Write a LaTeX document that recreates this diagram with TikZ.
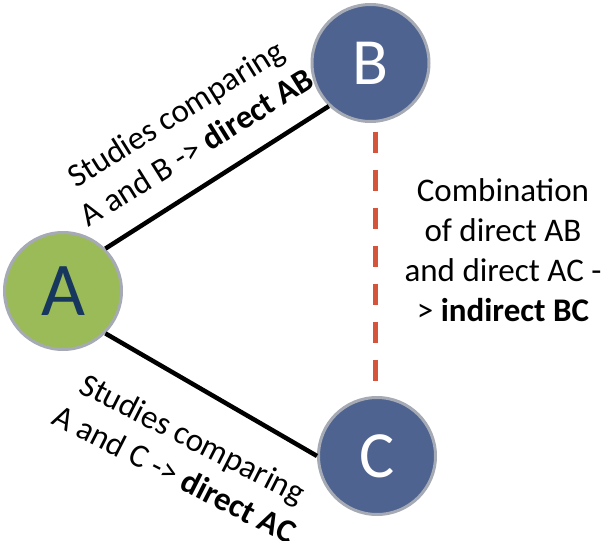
\documentclass[tikz,border=0pt]{standalone}
\usepackage{fontspec}
\setmainfont{Carlito}
\definecolor{agreen}{RGB}{155,187,89}
\definecolor{navy}{RGB}{23,55,94}
\definecolor{bblue}{RGB}{78,99,143}
\definecolor{ring}{RGB}{165,170,180}
\definecolor{dashred}{RGB}{214,84,58}
\tikzset{
  circ/.style={circle, draw=ring, line width=3pt, minimum size=117pt, inner sep=0pt},
  conn/.style={draw=black, line width=4.5pt},
  dashline/.style={draw=dashred, line width=5pt, dash pattern=on 21pt off 17pt},
  lbl/.style={align=center, font=\fontsize{33}{40}\selectfont, inner sep=0pt}
}
\begin{document}
\begin{tikzpicture}[x=1pt,y=-1pt]
\useasboundingbox (0,0) rectangle (603,541);
\node[circ, fill=agreen, text=navy, font=\fontsize{76}{76}\selectfont] (A) at (63,291) {A};
\node[circ, fill=bblue, text=white, font=\fontsize{66}{66}\selectfont] (B) at (370.5,63) {B};
\node[circ, fill=bblue, text=white, font=\fontsize{66}{66}\selectfont] (C) at (377,456) {C};
\draw[conn] (A.45) -- (B.226);
\draw[conn] (A.-45) -- (C.180);
\draw[dashline] ([shift={(4.5,8.5)}]B.south) -- ([shift={(-2,-15.5)}]C.north);
\node[lbl, rotate=32] (tab) at (186,130) {Studies comparing\\A and B -> \textbf{direct AB}};
\node[lbl, rotate=-27] (tac) at (184,456) {Studies comparing\\A and C -> \textbf{direct AC}};
\node[lbl] (tbc) at (503,250) {Combination\\of direct AB\\and direct AC -\\> \textbf{indirect BC}};
\end{tikzpicture}
\end{document}
